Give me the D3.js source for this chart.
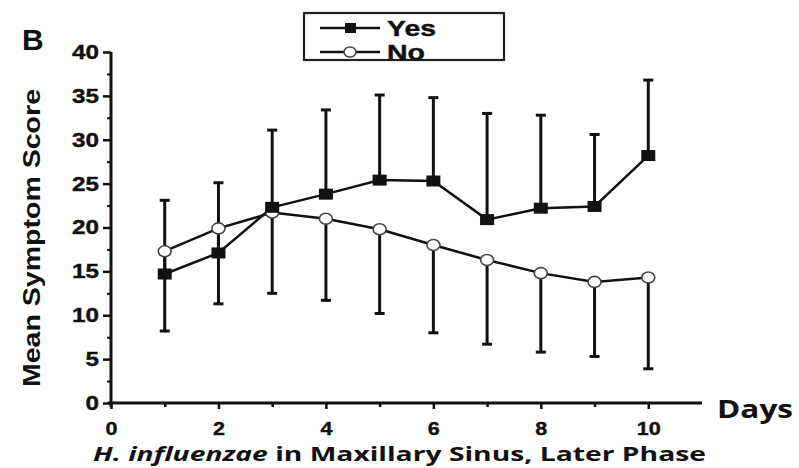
<!DOCTYPE html>
<html><head><meta charset="utf-8">
<script src="https://cdn.jsdelivr.net/npm/d3@7"></script>
<style>body{margin:0;background:#fff}svg{display:block}</style>
</head><body>
<svg id="c" width="799" height="468"></svg>
<script>
const days = [1,2,3,4,5,6,7,8,9,10];
const yesMean  = [14.7,17.1,22.3,23.8,25.4,25.3,20.9,22.2,22.4,28.2];
const yesUpper = [23.1,25.1,31.1,33.4,35.1,34.8,33.0,32.8,30.6,36.8];
const noMean   = [17.3,19.9,21.7,21.0,19.8,18.0,16.3,14.8,13.8,14.3];
const noLower  = [8.2,11.3,12.5,11.7,10.2,8.0,6.7,5.8,5.3,3.9];
const yTicks = [0,5,10,15,20,25,30,35,40];
const yMinor = [2.5,7.5,12.5,17.5,22.5,27.5,32.5,37.5];
const xTicks = [0,2,4,6,8,10];
const xMinor = [1,3,5,7,9];
const seriesNames = ["Yes","No"];

const svg = d3.select("#c");
const ink = "#111";
const x = d3.scaleLinear().domain([0,11]).range([111,702]);
const y = d3.scaleLinear().domain([0,40]).range([403,52]);
const arial = "'Liberation Sans',Arial,sans-serif";

// minor ticks
svg.append("g").attr("transform","translate(111,0)")
  .call(d3.axisLeft(y).tickValues(yMinor).tickSize(4).tickFormat(""))
  .call(g=>g.select(".domain").remove())
  .call(g=>g.selectAll("line").attr("stroke",ink).attr("stroke-width",2));
svg.append("g").attr("transform","translate(0,403)")
  .call(d3.axisBottom(x).tickValues(xMinor).tickSize(4).tickFormat(""))
  .call(g=>g.select(".domain").remove())
  .call(g=>g.selectAll("line").attr("stroke",ink).attr("stroke-width",2.5));

// major y
svg.append("g").attr("transform","translate(111,0)")
  .call(d3.axisLeft(y).tickValues(yTicks).tickSize(8).tickPadding(4))
  .call(g=>g.select(".domain").remove())
  .call(g=>g.selectAll("line").attr("stroke",ink).attr("stroke-width",2.5))
  .call(g=>g.selectAll("text").attr("fill",ink).attr("stroke",ink).attr("stroke-width",0.4)
    .style("font-family",arial).style("font-weight","bold").style("font-size","20px")
    .attr("textLength",d=>String(d).length*13.5).attr("lengthAdjust","spacingAndGlyphs"));
// major x
svg.append("g").attr("transform","translate(0,403)")
  .call(d3.axisBottom(x).tickValues(xTicks).tickSize(6).tickPadding(13))
  .call(g=>g.select(".domain").remove())
  .call(g=>g.selectAll("line").attr("stroke",ink).attr("stroke-width",2.5))
  .call(g=>g.selectAll("text").attr("fill",ink).attr("stroke",ink).attr("stroke-width",0.4)
    .style("font-family",arial).style("font-weight","bold").style("font-size","19px")
    .attr("textLength",d=>String(d).length*12).attr("lengthAdjust","spacingAndGlyphs"));

// axis lines
svg.append("line").attr("x1",111).attr("x2",111).attr("y1",y(40)).attr("y2",y(0)+4)
  .attr("stroke",ink).attr("stroke-width",3);
svg.append("line").attr("x1",108).attr("x2",x(11)).attr("y1",y(0)).attr("y2",y(0))
  .attr("stroke",ink).attr("stroke-width",3);

// error bars
const capW = 5;
const eb = svg.append("g").attr("stroke",ink).attr("stroke-width",3);
days.forEach((d,i)=>{
  eb.append("line").attr("x1",x(d)).attr("x2",x(d)).attr("y1",y(yesMean[i])).attr("y2",y(yesUpper[i]));
  eb.append("line").attr("x1",x(d)-capW).attr("x2",x(d)+capW).attr("y1",y(yesUpper[i])).attr("y2",y(yesUpper[i]));
  eb.append("line").attr("x1",x(d)).attr("x2",x(d)).attr("y1",y(noMean[i])).attr("y2",y(noLower[i]));
  eb.append("line").attr("x1",x(d)-capW).attr("x2",x(d)+capW).attr("y1",y(noLower[i])).attr("y2",y(noLower[i]));
});

// lines
const line = d3.line().x(d=>x(d[0])).y(d=>y(d[1]));
svg.append("path").datum(days.map((d,i)=>[d,noMean[i]])).attr("d",line)
  .attr("fill","none").attr("stroke",ink).attr("stroke-width",2.5);
svg.append("path").datum(days.map((d,i)=>[d,yesMean[i]])).attr("d",line)
  .attr("fill","none").attr("stroke",ink).attr("stroke-width",2.5);

// markers
svg.append("g").selectAll("ellipse").data(days).join("ellipse")
  .attr("cx",d=>x(d)).attr("cy",(d,i)=>y(noMean[i])).attr("rx",6.5).attr("ry",5.5)
  .attr("fill","#fff").attr("stroke","#444").attr("stroke-width",1.6);
svg.append("g").selectAll("rect").data(days).join("rect")
  .attr("x",d=>x(d)-7).attr("y",(d,i)=>y(yesMean[i])-5.5).attr("width",14).attr("height",11)
  .attr("fill",ink);

// legend
const lg = svg.append("g");
lg.append("rect").attr("x",304).attr("y",13).attr("width",200).attr("height",47)
  .attr("fill","#fff").attr("stroke","#222").attr("stroke-width",2.2);
[28,52].forEach((ly,k)=>{
  lg.append("line").attr("x1",320).attr("x2",380).attr("y1",ly).attr("y2",ly).attr("stroke",ink).attr("stroke-width",2.5);
  if(k===0) lg.append("rect").attr("x",345).attr("y",ly-5).attr("width",11).attr("height",10).attr("fill",ink);
  else lg.append("ellipse").attr("cx",350).attr("cy",ly).attr("rx",6).attr("ry",5).attr("fill","#fff").attr("stroke","#444").attr("stroke-width",1.6);
  lg.append("text").attr("x",387).attr("y",ly+8).text(seriesNames[k])
    .attr("textLength",k===0?49:38).attr("lengthAdjust","spacingAndGlyphs")
    .attr("fill",ink).attr("stroke",ink).attr("stroke-width",0.4)
    .style("font-family",arial).style("font-weight","bold").style("font-size","22px");
});

// labels
svg.append("text").attr("x",22).attr("y",50).text("B")
  .attr("fill",ink).style("font-family",arial).style("font-weight","bold").style("font-size","30px");
svg.append("text").attr("transform","translate(40,238) rotate(-90)").attr("text-anchor","middle")
  .text("Mean Symptom Score").attr("textLength",298).attr("lengthAdjust","spacingAndGlyphs")
  .attr("fill",ink).style("font-family",arial).style("font-weight","bold").style("font-size","24px");
svg.append("text").attr("x",717).attr("y",418).text("Days").attr("textLength",76).attr("lengthAdjust","spacingAndGlyphs")
  .attr("fill",ink).style("font-family","'Open Sans',sans-serif").style("font-weight","bold").style("font-size","25px");
const xt = svg.append("text").attr("x",93).attr("y",461).attr("textLength",613).attr("lengthAdjust","spacingAndGlyphs")
  .attr("fill",ink).style("font-family","'Open Sans',sans-serif").style("font-weight","bold").style("font-size","20px");
xt.append("tspan").style("font-style","italic").text("H. influenzae");
xt.append("tspan").text(" in Maxillary Sinus, Later Phase");
</script>
</body></html>
